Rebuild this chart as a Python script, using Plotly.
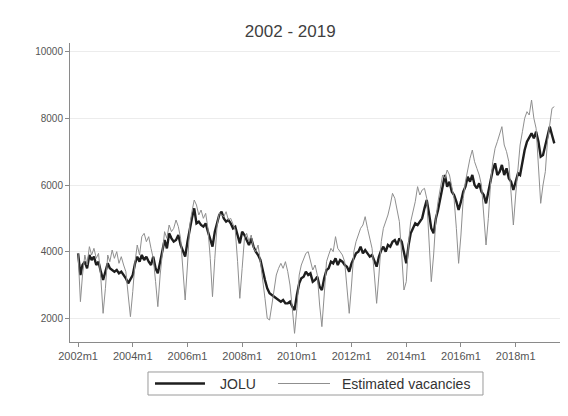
import pandas as pd
import plotly.graph_objects as go

# Monthly values, 2002m1 - 2019m6
jolu = [
    3950, 3300, 3600, 3700, 3500, 3900, 3750, 3850, 3600, 3700, 3400, 3150,  # 2002
    3400, 3650, 3500, 3450, 3400, 3450, 3350, 3400, 3300, 3200, 3050, 3200,  # 2003
    3300, 3650, 3850, 3700, 3900, 3750, 3850, 3700, 3600, 3850, 3500, 3350,  # 2004
    3700, 4000, 4350, 4100, 4550, 4400, 4300, 4350, 4500, 4200, 4000, 3850,  # 2005
    4300, 4700, 5000, 5300, 4850, 4900, 4800, 4750, 4850, 4600, 4400, 4150,  # 2006
    4600, 4900, 5100, 5200, 5000, 4900, 4950, 4850, 4700, 4750, 4500, 4250,  # 2007
    4600, 4500, 4350, 4200, 4400, 4150, 4000, 3900, 3750, 3400, 3150, 2900,  # 2008
    2750, 2700, 2650, 2600, 2550, 2500, 2550, 2450, 2450, 2500, 2350, 2250,  # 2009
    2700, 3050, 3200, 3250, 3400, 3300, 3350, 3100, 3150, 3250, 2950, 2850,  # 2010
    3200, 3450, 3500, 3700, 3650, 3800, 3600, 3750, 3700, 3600, 3550, 3400,  # 2011
    3650, 3800, 3950, 4000, 4150, 3950, 4050, 3950, 3850, 3900, 3700, 3550,  # 2012
    3850, 4050, 4150, 4000, 4200, 4150, 4300, 4350, 4200, 4400, 4300, 3950,  # 2013
    3650, 4200, 4550, 4700, 4850, 4800, 4900, 5000, 5300, 5550, 5150, 4700,  # 2014
    4550, 5000, 5250, 5600, 6000, 6300, 5950, 6100, 5800, 5700, 5500, 5250,  # 2015
    5500, 5800, 5950, 6250, 6100, 6300, 6000, 5900, 6050, 5800, 5700, 5450,  # 2016
    5800, 6200, 6450, 6650, 6300, 6400, 6600, 6300, 6500, 6200, 6100, 5850,  # 2017
    6100, 6350, 6300, 6700, 7050, 7300, 7450, 7550, 7400, 7600, 7300, 6850,  # 2018
    6900, 7200, 7450, 7750, 7500, 7250,                                      # 2019
]

vacancies = [
    3950, 2500, 3300, 3900, 3600, 4150, 3900, 4100, 3800, 3950, 3200, 2150,  # 2002
    2900, 3900, 3700, 4050, 3800, 4000, 3650, 3850, 3600, 3400, 2700, 2050,  # 2003
    2800, 3700, 4200, 3900, 4450, 4550, 4300, 4450, 4100, 3800, 3100, 2350,  # 2004
    3300, 4100, 4600, 4400, 4800, 4600, 4700, 4950, 4750, 4400, 3500, 2550,  # 2005
    3600, 4800, 5200, 5550, 5400, 5100, 5250, 5000, 5150, 4700, 3800, 2650,  # 2006
    3800, 4800, 5150, 5100, 5050, 5200, 4950, 5000, 4800, 4650, 3700, 2600,  # 2007
    3500, 4400, 4550, 4300, 4500, 4100, 4000, 4200, 3700, 3200, 2600, 2000,  # 2008
    1950, 2400, 2900, 3300, 3500, 3650, 3500, 3700, 3400, 3000, 2300, 1550,  # 2009
    2300, 3300, 3600, 3800, 3950, 4000, 3700, 3450, 3600, 3300, 2400, 1750,  # 2010
    2700, 3700, 3900, 4100, 4000, 4450, 4100, 4000, 3900, 3700, 3000, 2150,  # 2011
    3000, 4000, 4300, 4500, 4700, 4800, 5050, 4700, 4400, 4100, 3300, 2450,  # 2012
    3300, 4300, 4700, 4900, 5100, 5400, 5750, 5600, 5200, 4900, 3900, 2850,  # 2013
    3100, 4300, 4900, 5200, 5500, 5950, 5700, 5850, 5900, 5600, 4300, 3100,  # 2014
    3900, 5000, 5500, 5900, 6300, 6200, 6450, 6300, 5900, 5600, 4700, 3650,  # 2015
    4500, 5600, 6100, 6500, 6800, 7050, 6700, 6500, 6300, 6000, 5100, 4200,  # 2016
    5000, 6100, 6700, 7100, 7300, 7500, 7750, 7200, 7000, 6700, 5800, 4800,  # 2017
    5700, 6500, 7200, 7600, 8000, 8200, 8100, 8550, 8000, 7700, 6700, 5450,  # 2018
    6000, 6400, 7300, 7900, 8300, 8350,                                      # 2019
]

series_names = ["JOLU", "Estimated vacancies"]
series_colors = ["#1e1e1e", "#8f8f8f"]
series_widths = [2.4, 1]

tick_years = [2002, 2004, 2006, 2008, 2010, 2012, 2014, 2016, 2018]
tick_labels = [f"{y}m1" for y in tick_years]
y_ticks = [2000, 4000, 6000, 8000, 10000]

months = pd.date_range("2002-01-01", periods=len(jolu), freq="MS")
tick_vals = [pd.Timestamp(f"{y}-01-01") for y in tick_years]

fig = go.Figure()
for vals, name, col, w in zip([jolu, vacancies], series_names, series_colors, series_widths):
    fig.add_trace(go.Scatter(x=months, y=vals, mode="lines", name=name,
                             line=dict(color=col, width=w), showlegend=False))

# Legend drawn as a boxed key below the plot (Stata style, long key lines)
leg_y = -0.1388
shapes = [
    dict(type="rect", xref="paper", yref="paper", x0=0.1582, x1=0.8377,
         y0=-0.1773, y1=-0.1003, line=dict(color="#9a9a9a", width=1),
         fillcolor="white", layer="below"),
    dict(type="line", xref="paper", yref="paper", x0=0.1724, x1=0.2738,
         y0=leg_y, y1=leg_y, line=dict(color=series_colors[0], width=series_widths[0])),
    dict(type="line", xref="paper", yref="paper", x0=0.4219, x1=0.5274,
         y0=leg_y, y1=leg_y, line=dict(color=series_colors[1], width=series_widths[1])),
]
annotations = [
    dict(text=series_names[0], xref="paper", yref="paper", x=0.3002, y=leg_y,
         xanchor="left", yanchor="middle", showarrow=False,
         font=dict(size=14, color="#333")),
    dict(text=series_names[1], xref="paper", yref="paper", x=0.5477, y=leg_y,
         xanchor="left", yanchor="middle", showarrow=False,
         font=dict(size=14, color="#333")),
]

fig.update_layout(
    width=560, height=408, autosize=False,
    paper_bgcolor="white", plot_bgcolor="white",
    margin=dict(l=62, r=5, t=35, b=74),
    title=dict(text="2002 - 2019", x=0.504, xanchor="center", y=0.944, yanchor="middle",
               font=dict(family="Liberation Sans, Arial", size=17, color="#3f3f3f")),
    font=dict(family="Liberation Sans, Arial", color="#444"),
    shapes=shapes, annotations=annotations,
    showlegend=False,
)
fig.update_xaxes(
    range=[pd.Timestamp("2001-09-15"), pd.Timestamp("2019-09-25")],
    tickvals=tick_vals, ticktext=tick_labels,
    showline=True, linecolor="#8a8a8a", linewidth=1,
    ticks="outside", ticklen=4, tickcolor="#8a8a8a",
    showgrid=False, zeroline=False,
    tickfont=dict(size=11, color="#555"),
)
fig.update_yaxes(
    range=[1290, 10260],
    tickvals=y_ticks, ticktext=[str(v) for v in y_ticks],
    showline=True, linecolor="#8a8a8a", linewidth=1,
    ticks="outside", ticklen=4, tickcolor="#8a8a8a",
    showgrid=True, gridcolor="#ececec", gridwidth=1, zeroline=False,
    tickfont=dict(size=10, color="#555"),
)

fig.write_html("out.html")
